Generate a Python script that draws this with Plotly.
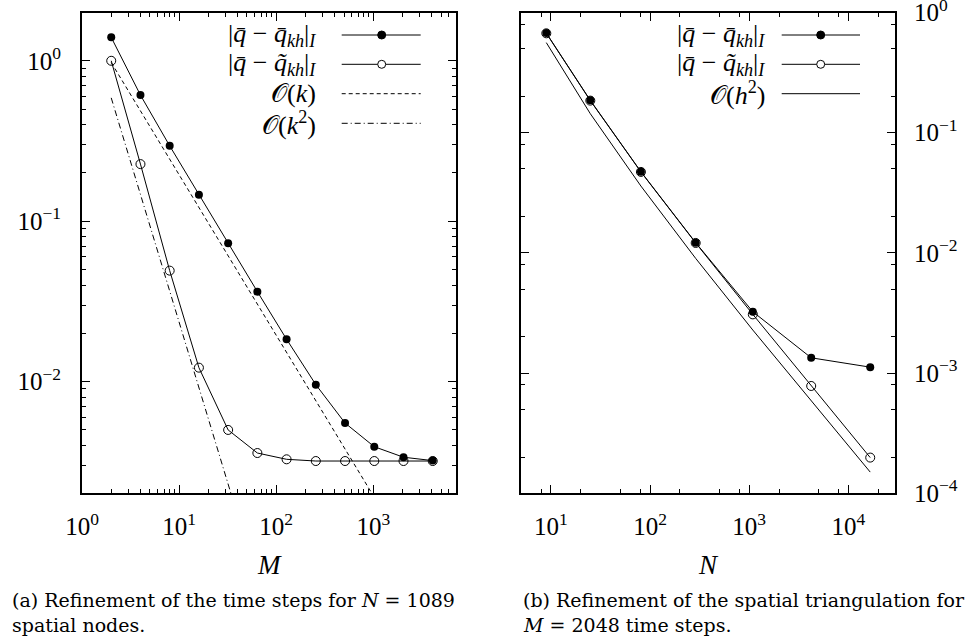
import plotly.graph_objects as go
from plotly.subplots import make_subplots

# ---------------- data ----------------
M = [2, 4, 8, 16, 32, 64, 128, 256, 512, 1024, 2048, 4096]
err_bar_M = [1.40, 0.611, 0.295, 0.146, 0.0730, 0.0364, 0.01837, 0.00958,
             0.00552, 0.00393, 0.00338, 0.00322]
err_tilde_M = [1.00, 0.227, 0.0492, 0.01222, 0.00500, 0.00359, 0.00328,
               0.00320, 0.00320, 0.00320, 0.00320, 0.00320]
M_ref1 = [2, 4, 8, 16, 32, 64, 128, 256, 512, 1024]
ref_k = [0.975, 0.4875, 0.244, 0.122, 0.0609, 0.0305, 0.01523, 0.00762,
         0.00381, 0.00190]
M_ref2 = [2, 4, 8, 16, 32, 64]
ref_k2 = [0.5875, 0.147, 0.0367, 0.00918, 0.002295, 0.000574]

N = [9, 25, 81, 289, 1089, 4225, 16641]
err_bar_N = [0.675, 0.186, 0.0474, 0.01216, 0.00324, 0.00134, 0.00112]
err_tilde_N = [0.672, 0.185, 0.0472, 0.01210, 0.00308, 0.000781, 0.000198]
ref_h2 = [0.562, 0.144, 0.0360, 0.00900, 0.00228, 0.000585, 0.000150]

xt_left = [1, 10, 100, 1000]
xt_left_txt = ["10<sup>0</sup>", "10<sup>1</sup>", "10<sup>2</sup>", "10<sup>3</sup>"]
yt_left = [1, 0.1, 0.01]
yt_left_txt = ["10<sup>0</sup>", "10<sup>−1</sup>", "10<sup>−2</sup>"]
xt_right = [10, 100, 1000, 10000]
xt_right_txt = ["10<sup>1</sup>", "10<sup>2</sup>", "10<sup>3</sup>", "10<sup>4</sup>"]
yt_right = [1, 0.1, 0.01, 0.001, 0.0001]
yt_right_txt = ["10<sup>0</sup>", "10<sup>−1</sup>", "10<sup>−2</sup>",
                "10<sup>−3</sup>", "10<sup>−4</sup>"]

minor_x_left = [m * 10 ** k for k in range(0, 4) for m in range(2, 10) if m * 10 ** k < 7100]
minor_y_left = [m * 10.0 ** k for k in range(-3, 1) for m in range(2, 10)
                if 0.0021 < m * 10.0 ** k < 1.9]
minor_x_right = [m * 10 ** k for k in range(0, 5) for m in (2, 5, 8) if 5.5 < m * 10 ** k < 29000]
minor_y_right = [m * 10.0 ** k for k in range(-4, 0) for m in (2, 5, 8)]

# ---------------- layout helpers ----------------
W, H = 968, 639
FONT = "Liberation Serif"
CAPFONT = "DejaVu Serif"


def X(p):
    return p / W


def Y(p):
    return 1 - p / H


fig = make_subplots(rows=1, cols=2)

line_style = dict(color="black", width=1)

# left panel
fig.add_trace(go.Scatter(x=M_ref1, y=ref_k, mode="lines",
                         line=dict(color="black", width=1, dash="4px,3px"),
                         showlegend=False), 1, 1)
fig.add_trace(go.Scatter(x=M_ref2, y=ref_k2, mode="lines",
                         line=dict(color="black", width=1, dash="6px,3px,1px,3px"),
                         showlegend=False), 1, 1)
fig.add_trace(go.Scatter(x=M, y=err_tilde_M, mode="lines+markers", line=line_style,
                         marker=dict(symbol="circle-open", size=9, color="black",
                                     line=dict(width=1, color="black")),
                         showlegend=False), 1, 1)
fig.add_trace(go.Scatter(x=M, y=err_bar_M, mode="lines+markers", line=line_style,
                         marker=dict(symbol="circle", size=8, color="black"),
                         showlegend=False), 1, 1)

# right panel
fig.add_trace(go.Scatter(x=N, y=ref_h2, mode="lines", line=line_style,
                         showlegend=False), 1, 2)
fig.add_trace(go.Scatter(x=N, y=err_tilde_N, mode="lines+markers", line=line_style,
                         marker=dict(symbol="circle-open", size=9, color="black",
                                     line=dict(width=1, color="black")),
                         showlegend=False), 1, 2)
fig.add_trace(go.Scatter(x=N, y=err_bar_N, mode="lines+markers", line=line_style,
                         marker=dict(symbol="circle", size=8, color="black"),
                         showlegend=False), 1, 2)

tickfont = dict(family=FONT, size=25, color="black")
common = dict(type="log", showgrid=False, zeroline=False, showline=True,
              linecolor="black", linewidth=2, mirror="ticks", ticks="inside",
              ticklen=8, tickwidth=1, tickcolor="black", tickfont=tickfont,
              tickmode="array", automargin=False, ticklabeloverflow="allow")

fig.update_xaxes(common, row=1, col=1, range=[0, 3.852],
                 domain=[X(82), X(456)], tickvals=xt_left, ticktext=xt_left_txt,
                 ticklabelstandoff=10,
                 minor=dict(tickmode="array", tickvals=minor_x_left, ticks="inside",
                            ticklen=4, tickwidth=1, tickcolor="black"))
fig.update_yaxes(common, row=1, col=1, range=[-2.696, 0.301],
                 domain=[Y(493.3), Y(12.5)], tickvals=yt_left, ticktext=yt_left_txt,
                 ticklabelstandoff=14,
                 minor=dict(tickmode="array", tickvals=minor_y_left, ticks="inside",
                            ticklen=4, tickwidth=1, tickcolor="black"))
fig.update_xaxes(common, row=1, col=2, range=[0.699, 4.471],
                 domain=[X(521), X(895)], tickvals=xt_right, ticktext=xt_right_txt,
                 ticklabelstandoff=10,
                 minor=dict(tickmode="array", tickvals=minor_x_right, ticks="inside",
                            ticklen=4, tickwidth=1, tickcolor="black"))
fig.update_yaxes(common, row=1, col=2, range=[-4.0005, 0.0005], side="right",
                 domain=[Y(493.3), Y(12.5)], tickvals=yt_right, ticktext=yt_right_txt,
                 ticklabelstandoff=12,
                 minor=dict(tickmode="array", tickvals=minor_y_right, ticks="inside",
                            ticklen=4, tickwidth=1, tickcolor="black"))

# ---------------- custom gnuplot-style legends ----------------
QBAR = "<i>q\u0304</i>"
QTIL = "<i>q\u0303</i>"
lab_bar = f"|{QBAR} − {QBAR}<sub><i>kh</i></sub>|<sub><i>I</i></sub>"
lab_til = f"|{QBAR} − {QTIL}<sub><i>kh</i></sub>|<sub><i>I</i></sub>"
CAL_O = "\U0001D4AA"
lab_k = f"{CAL_O}(<i>k</i>)"
lab_k2 = f"{CAL_O}(<i>k</i><sup>2</sup>)"
lab_h2 = f"{CAL_O}(<i>h</i><sup>2</sup>)"

annotations = []
shapes = []


def legend_entry(text, row_y, text_right, x0, x1, xm, dash=None, marker=None):
    annotations.append(dict(x=X(text_right), y=Y(row_y), xref="paper", yref="paper",
                            text=text, showarrow=False, xanchor="right",
                            yanchor="middle",
                            font=dict(family=FONT, size=26, color="black")))
    shapes.append(dict(type="line", xref="paper", yref="paper", x0=X(x0), x1=X(x1),
                       y0=Y(row_y), y1=Y(row_y),
                       line=dict(color="black", width=1, dash=dash or "solid")))
    if marker:
        r = 4
        shapes.append(dict(type="circle", xref="paper", yref="paper",
                           x0=X(xm - r), x1=X(xm + r), y0=Y(row_y + r), y1=Y(row_y - r),
                           line=dict(color="black", width=1),
                           fillcolor="black" if marker == "filled" else "white"))


legend_entry(lab_bar, 35, 318, 341.7, 420.7, 381.7, marker="filled")
legend_entry(lab_til, 64.3, 318, 341.7, 420.7, 381.7, marker="open")
legend_entry(lab_k, 93.7, 318, 341.7, 420.7, 381.7, dash="4px,3px")
legend_entry(lab_k2, 123.3, 318, 341.7, 420.7, 381.7, dash="6px,3px,1px,3px")

legend_entry(lab_bar, 35, 766.7, 781.7, 860, 820.7, marker="filled")
legend_entry(lab_til, 64.3, 766.7, 781.7, 860, 820.7, marker="open")
legend_entry(lab_h2, 93.7, 766.7, 781.7, 860, 820.7)

# axis titles
annotations.append(dict(x=X(269), y=Y(565), xref="paper", yref="paper",
                        text="<i>M</i>", showarrow=False, xanchor="center",
                        yanchor="middle", font=dict(family=FONT, size=27, color="black")))
annotations.append(dict(x=X(708), y=Y(565), xref="paper", yref="paper",
                        text="<i>N</i>", showarrow=False, xanchor="center",
                        yanchor="middle", font=dict(family=FONT, size=27, color="black")))

# captions
cap_font = dict(family=CAPFONT, size=19, color="black")
captions = [
    (10, 600, "(a) Refinement of the time steps for <i>N</i> = 1089"),
    (10, 625, "spatial nodes."),
    (521, 600, "(b) Refinement of the spatial triangulation for"),
    (521, 625, "<i>M</i> = 2048 time steps."),
]
for cx, cy, ct in captions:
    annotations.append(dict(x=X(cx), y=Y(cy), xref="paper", yref="paper", text=ct,
                            showarrow=False, xanchor="left", yanchor="middle",
                            font=cap_font))

fig.update_layout(width=W, height=H, margin=dict(l=0, r=0, t=0, b=0),
                  paper_bgcolor="white", plot_bgcolor="white",
                  annotations=annotations, shapes=shapes, showlegend=False)

fig.write_html("out.html", config={"displayModeBar": False},
               post_script="document.body.style.margin='0';"
                           "document.body.style.overflow='hidden';")
